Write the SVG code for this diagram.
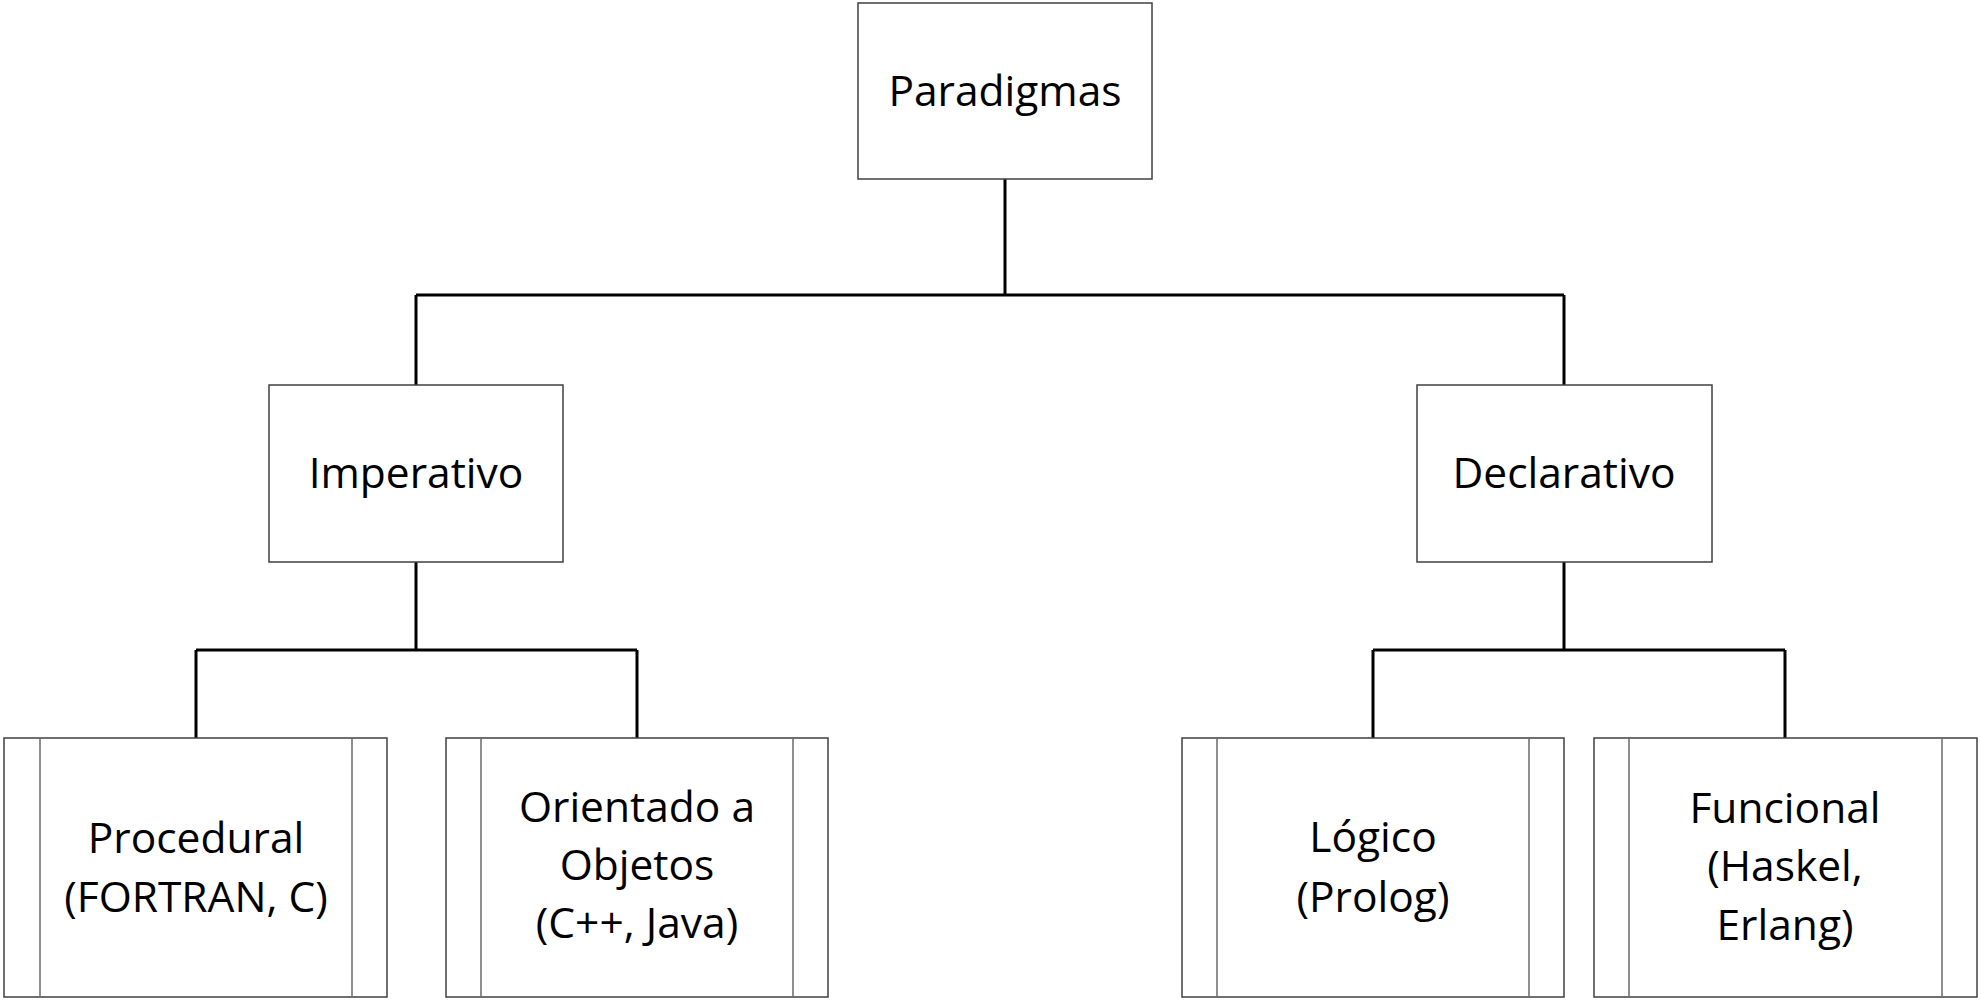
<svg xmlns="http://www.w3.org/2000/svg" width="1981" height="1000" viewBox="0 0 1981 1000">
<style>
.box{fill:#fff;stroke:#404040;stroke-width:1.5}
.inner{stroke:#6a6a6a;stroke-width:1.5}
.conn{fill:none;stroke:#000;stroke-width:3}
text{font-family:"Open Sans","Liberation Sans",sans-serif;font-size:42.5px;fill:#000;text-anchor:middle}
</style>
<rect width="1981" height="1000" fill="#fff"/>
<g id="connectors">
<path class="conn" d="M1005,179 V295 M416,295 H1564 M416,295 V385 M1564,295 V385"/>
<path class="conn" d="M416,562 V650 M196,650 H637 M196,650 V738 M637,650 V738"/>
<path class="conn" d="M1564,562 V650 M1373,650 H1785 M1373,650 V738 M1785,650 V738"/>
</g>
<g id="paradigmas">
<rect class="box" x="858" y="3" width="294" height="176"/>
<text x="1005" y="106">Paradigmas</text>
</g>
<g id="imperativo">
<rect class="box" x="269" y="385" width="294" height="177"/>
<text x="416" y="488">Imperativo</text>
</g>
<g id="declarativo">
<rect class="box" x="1417" y="385" width="295" height="177"/>
<text x="1564" y="488">Declarativo</text>
</g>
<g id="procedural">
<rect class="box" x="4" y="738" width="383" height="259"/>
<line class="inner" x1="40" y1="738" x2="40" y2="997"/>
<line class="inner" x1="352" y1="738" x2="352" y2="997"/>
<text x="196" y="853">Procedural</text>
<text x="196" y="912">(FORTRAN, C)</text>
</g>
<g id="orientado">
<rect class="box" x="446" y="738" width="382" height="259"/>
<line class="inner" x1="481" y1="738" x2="481" y2="997"/>
<line class="inner" x1="793" y1="738" x2="793" y2="997"/>
<text x="637" y="822">Orientado a</text>
<text x="637" y="880">Objetos</text>
<text x="637" y="938">(C++, Java)</text>
</g>
<g id="logico">
<rect class="box" x="1182" y="738" width="382" height="259"/>
<line class="inner" x1="1217" y1="738" x2="1217" y2="997"/>
<line class="inner" x1="1529" y1="738" x2="1529" y2="997"/>
<text x="1373" y="852">Lógico</text>
<text x="1373" y="912">(Prolog)</text>
</g>
<g id="funcional">
<rect class="box" x="1594" y="738" width="383" height="259"/>
<line class="inner" x1="1629" y1="738" x2="1629" y2="997"/>
<line class="inner" x1="1942" y1="738" x2="1942" y2="997"/>
<text x="1785" y="823">Funcional</text>
<text x="1785" y="881">(Haskel,</text>
<text x="1785" y="940">Erlang)</text>
</g>
</svg>
